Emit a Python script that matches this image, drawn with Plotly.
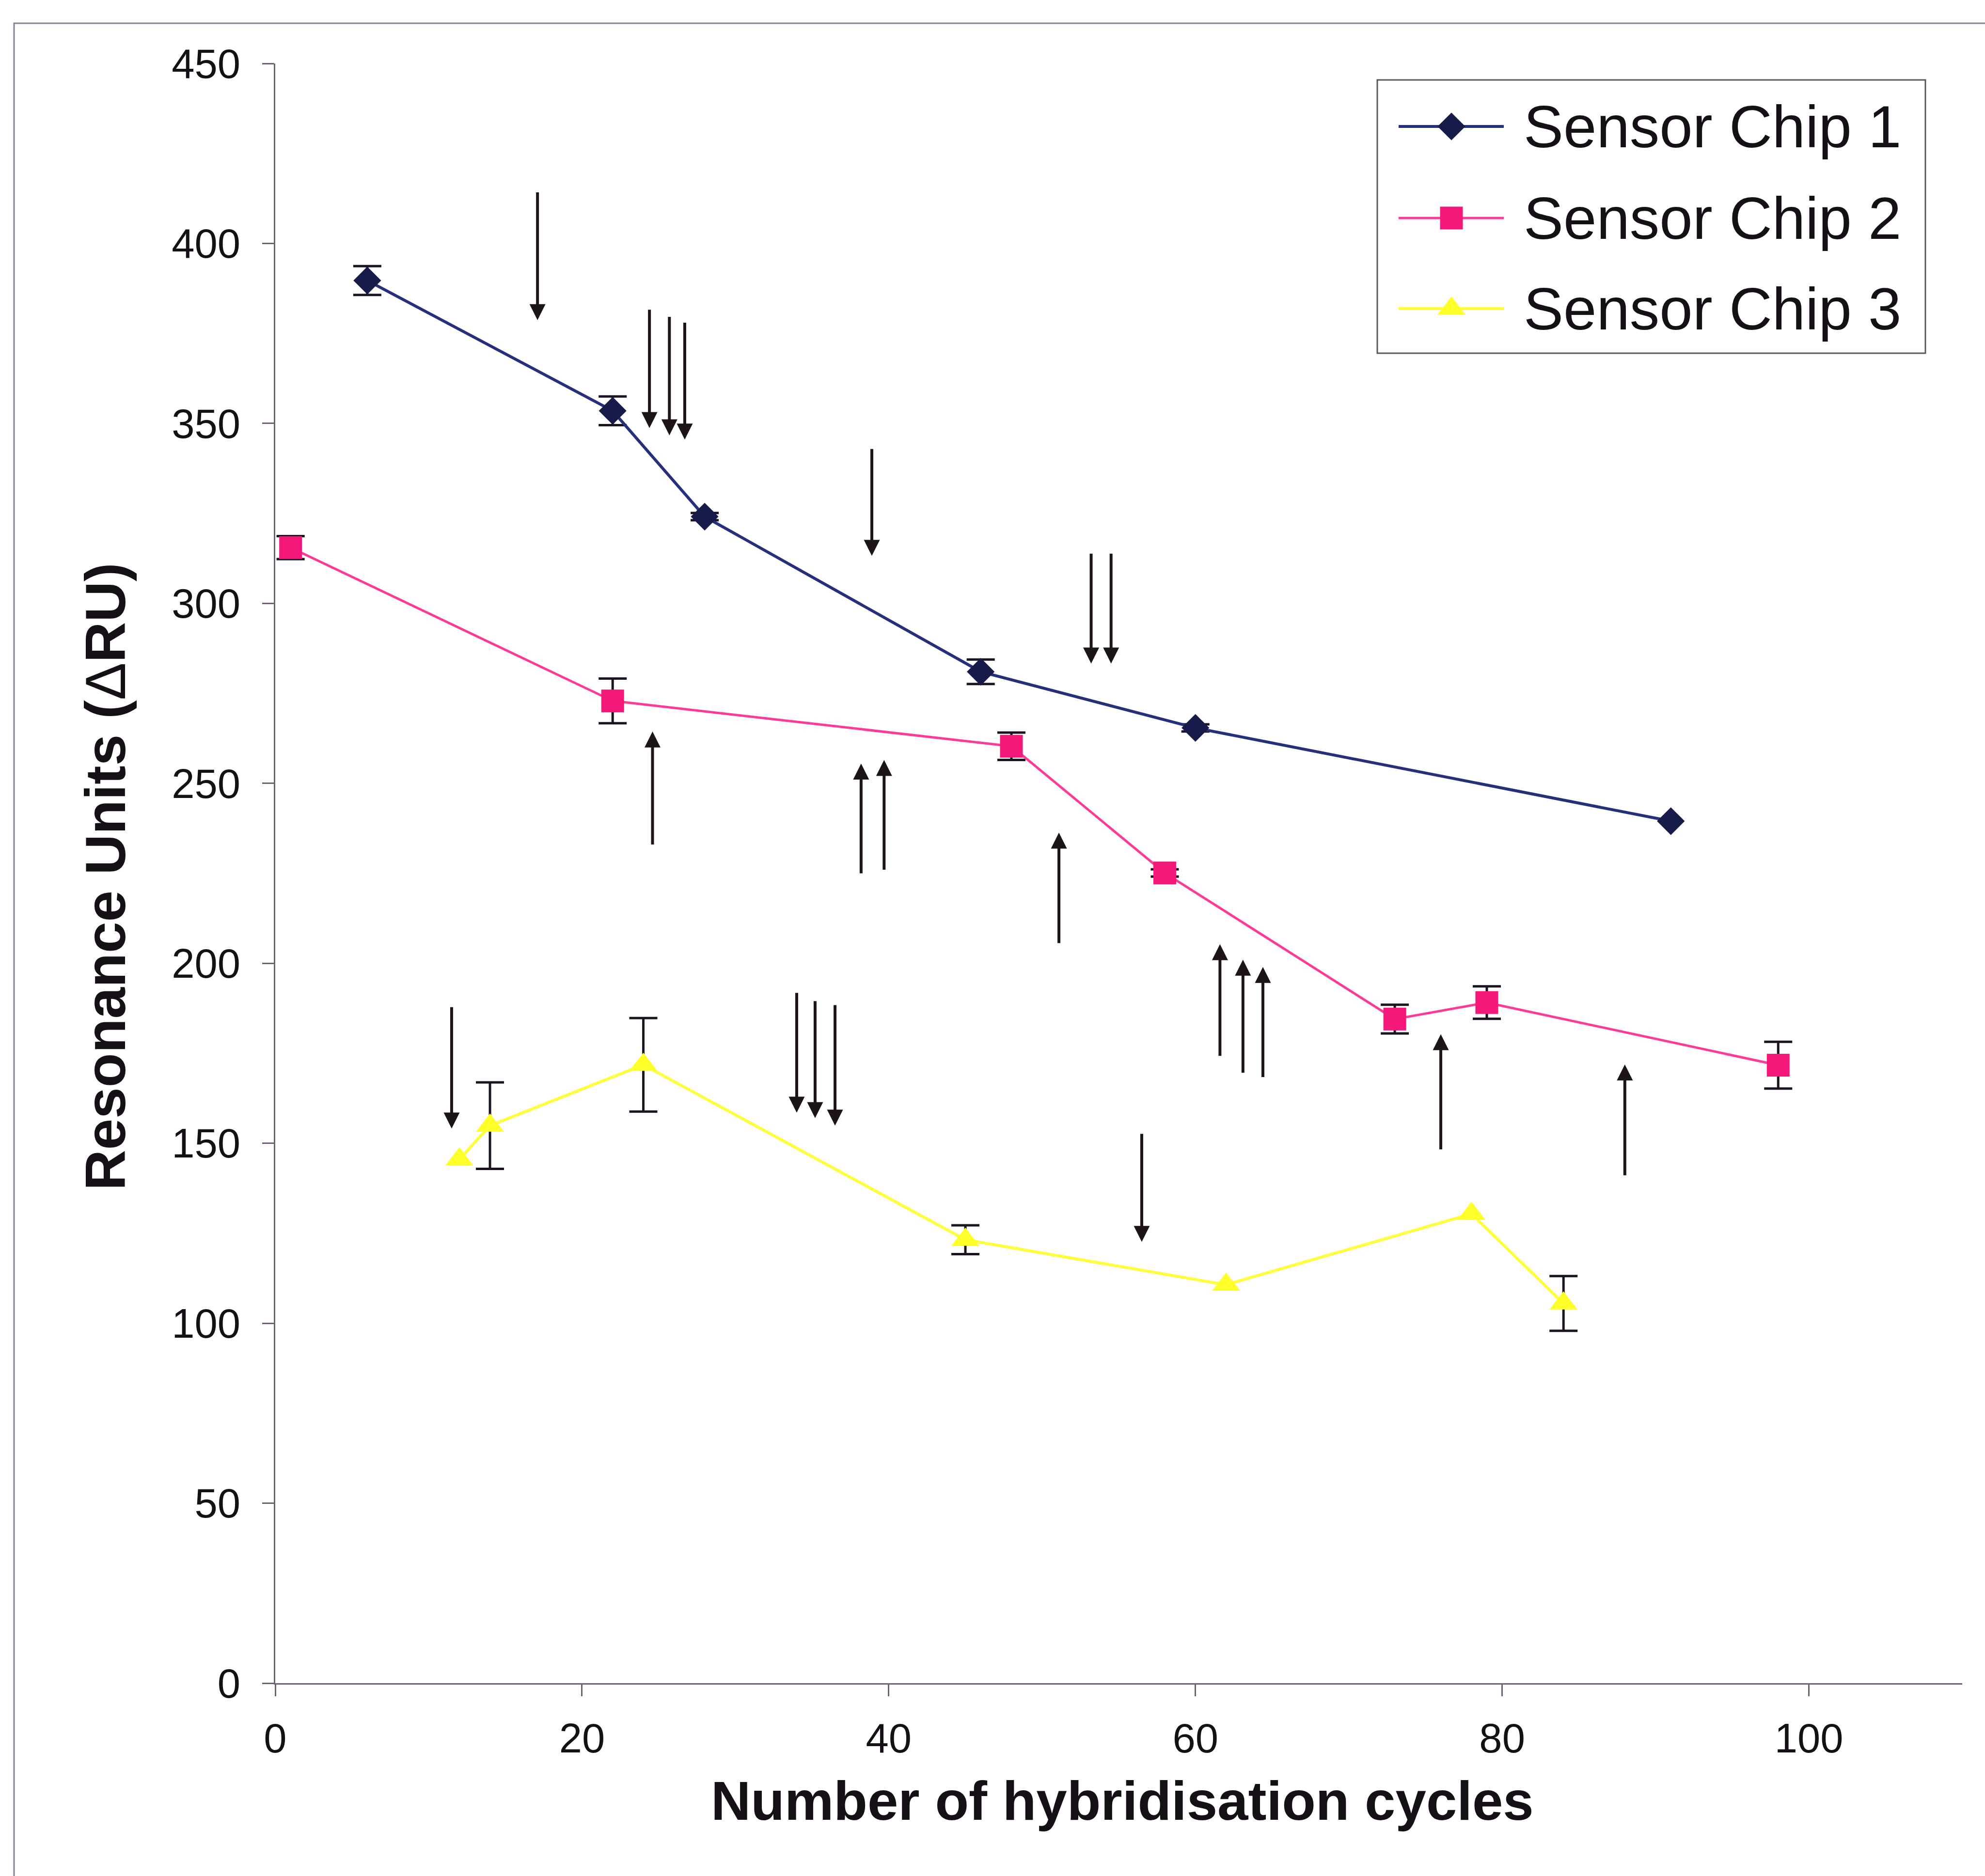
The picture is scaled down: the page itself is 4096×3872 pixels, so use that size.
import plotly.graph_objects as go

# ---- measured responses (x = hybridisation cycle, y = resonance units) ----
chip1_cycles = [6, 22, 28, 46, 60, 91]
chip1_ru = [389.7, 353.5, 324.1, 281.0, 265.4, 239.5]
chip1_err = [4.0, 4.0, 1.0, 3.4, 1.0, None]

chip2_cycles = [1, 22, 48, 58, 73, 79, 98]
chip2_ru = [315.5, 272.9, 260.3, 225.1, 184.5, 189.1, 171.7]
chip2_err = [3.2, 6.2, 3.8, 1.0, 4.0, 4.5, 6.5]

chip3_cycles = [12, 14, 24, 45, 62, 78, 84]
chip3_ru = [145.5, 154.9, 171.8, 123.2, 110.7, 130.4, 105.5]
chip3_err = [None, 12.0, 13.0, 4.0, None, None, 7.6]

series_names = ["Sensor Chip 1", "Sensor Chip 2", "Sensor Chip 3"]

# ---- event arrows: cycle position, tail value, head value ----
down_x = [17.1, 24.4, 25.7, 26.7, 38.9, 53.2, 54.5, 11.5, 34.0, 35.2, 36.5, 56.5]
down_from = [414.4, 381.8, 379.8, 378.2, 343.1, 314.0, 314.0, 188.0, 192.0, 189.7, 188.6, 152.8]
down_to = [378.7, 348.7, 346.7, 345.5, 313.2, 283.3, 283.3, 154.1, 158.5, 157.0, 154.9, 122.6]

up_x = [24.6, 38.2, 39.7, 51.1, 61.6, 63.1, 64.4, 76.0, 88.0]
up_from = [232.8, 224.8, 225.8, 205.4, 174.1, 169.4, 168.2, 148.1, 140.9]
up_to = [264.4, 255.5, 256.5, 236.3, 205.3, 201.0, 199.0, 180.3, 171.9]

x_ticks = [0, 20, 40, 60, 80, 100]
y_ticks = [0, 50, 100, 150, 200, 250, 300, 350, 400, 450]

# ---- page geometry (pixels) ----
W, H = 4096, 3872
PL, PR = 568, 4049        # plot area left / right
PT, PB = 131, 3474        # plot area top / bottom

FONT = "Liberation Sans, Arial, sans-serif"
INK = "#141016"
ERR_COLOR = "#1c1420"
ARROW_COLOR = "#1c1418"
AXIS_COLOR = "#6e6274"

styles = [
    dict(line="#26307a", marker="#161b4a", symbol="diamond", size=44, lw=6),
    dict(line="#ff3a96", marker="#f3187a", symbol="square", size=47, lw=5),
    dict(line="#ffff3c", marker="#ffff2a", symbol="triangle-up", size=50, lw=6),
]


def paper_x(px):
    return (px - PL) / (PR - PL)


def paper_y(py):
    return (PB - py) / (PB - PT)


fig = go.Figure()

for name, xs, ys, errs, st in zip(
    series_names,
    [chip1_cycles, chip2_cycles, chip3_cycles],
    [chip1_ru, chip2_ru, chip3_ru],
    [chip1_err, chip2_err, chip3_err],
    styles,
):
    keep = [i for i, e in enumerate(errs) if e is not None]
    fig.add_trace(go.Scatter(
        x=[xs[i] for i in keep], y=[ys[i] for i in keep], mode="markers",
        marker=dict(size=1, color="rgba(0,0,0,0)"),
        error_y=dict(type="data", array=[errs[i] for i in keep], visible=True,
                     color=ERR_COLOR, thickness=5, width=29),
        showlegend=False, hoverinfo="skip"))
    fig.add_trace(go.Scatter(
        x=xs, y=ys, mode="lines+markers", name=name,
        line=dict(color=st["line"], width=st["lw"]),
        marker=dict(symbol=st["symbol"], size=st["size"], color=st["marker"],
                    line=dict(width=0)),
        showlegend=False, cliponaxis=False))

# arrows
for x, y0, y1 in list(zip(down_x, down_from, down_to)) + list(zip(up_x, up_from, up_to)):
    fig.add_annotation(x=x, y=y1, ax=x, ay=y0, xref="x", yref="y", axref="x", ayref="y",
                       text="", showarrow=True, arrowhead=2, arrowsize=1.1,
                       arrowwidth=6, arrowcolor=ARROW_COLOR, standoff=0)

# ---- legend drawn on a pixel-scaled overlay ----
LBX0, LBX1, LBY0, LBY1 = 2842, 3973, 165, 729
rows = [261, 450, 637]
line_x0, line_x1, mark_x, text_x = 2886, 3103, 2995, 3142

fig.add_shape(type="rect", xref="x2", yref="y2", x0=LBX0, x1=LBX1, y0=LBY0, y1=LBY1,
              line=dict(color="#5a5560", width=3), fillcolor="white", layer="below")
for name, ry, st in zip(series_names, rows, styles):
    fig.add_trace(go.Scatter(x=[line_x0, line_x1], y=[ry, ry], mode="lines",
                             line=dict(color=st["line"], width=st["lw"]),
                             xaxis="x2", yaxis="y2", showlegend=False, hoverinfo="skip"))
    fig.add_trace(go.Scatter(x=[mark_x], y=[ry], mode="markers",
                             marker=dict(symbol=st["symbol"], size=st["size"], color=st["marker"]),
                             xaxis="x2", yaxis="y2", showlegend=False, hoverinfo="skip",
                             cliponaxis=False))
    fig.add_annotation(x=text_x, y=ry, xref="x2", yref="y2", text=name, showarrow=False,
                       xanchor="left", yanchor="middle",
                       font=dict(family=FONT, size=123, color=INK))

# ---- axis titles ----
fig.add_annotation(x=paper_x(2316), y=paper_y(3716), xref="paper", yref="paper",
                   text="<b>Number of hybridisation cycles</b>", showarrow=False,
                   xanchor="center", yanchor="middle",
                   font=dict(family=FONT, size=114, color=INK))
fig.add_annotation(x=paper_x(218), y=paper_y(1809), xref="paper", yref="paper",
                   text="<b>Resonance Units (</b>Δ<b>RU)</b>", showarrow=False, textangle=-90,
                   xanchor="center", yanchor="middle",
                   font=dict(family=FONT, size=116, color=INK))

# outer frame
fig.add_shape(type="rect", xref="paper", yref="paper",
              x0=paper_x(29), x1=paper_x(4140), y0=paper_y(3920), y1=paper_y(48),
              line=dict(color="#8c8094", width=3), fillcolor="rgba(0,0,0,0)")

fig.update_layout(
    width=W, height=H,
    margin=dict(l=PL, r=W - PR, t=PT, b=H - PB, pad=0),
    paper_bgcolor="white", plot_bgcolor="white",
    font=dict(family=FONT, color=INK),
    showlegend=False,
    xaxis=dict(range=[0, 110], tickvals=x_ticks, ticks="outside", ticklen=24, tickwidth=3,
               tickcolor=AXIS_COLOR, showline=True, linecolor=AXIS_COLOR, linewidth=3,
               showgrid=False, zeroline=False, tickfont=dict(size=85, color=INK),
               ticklabelstandoff=14),
    yaxis=dict(range=[0, 450], tickvals=y_ticks, ticks="outside", ticklen=24, tickwidth=3,
               tickcolor=AXIS_COLOR, showline=True, linecolor=AXIS_COLOR, linewidth=3,
               showgrid=False, zeroline=False, tickfont=dict(size=85, color=INK),
               ticklabelstandoff=28),
    xaxis2=dict(overlaying="x", anchor="y2", range=[PL, PR], visible=False, fixedrange=True),
    yaxis2=dict(overlaying="y", anchor="x2", range=[PB, PT], visible=False, fixedrange=True),
)

fig.write_html("out.html")
